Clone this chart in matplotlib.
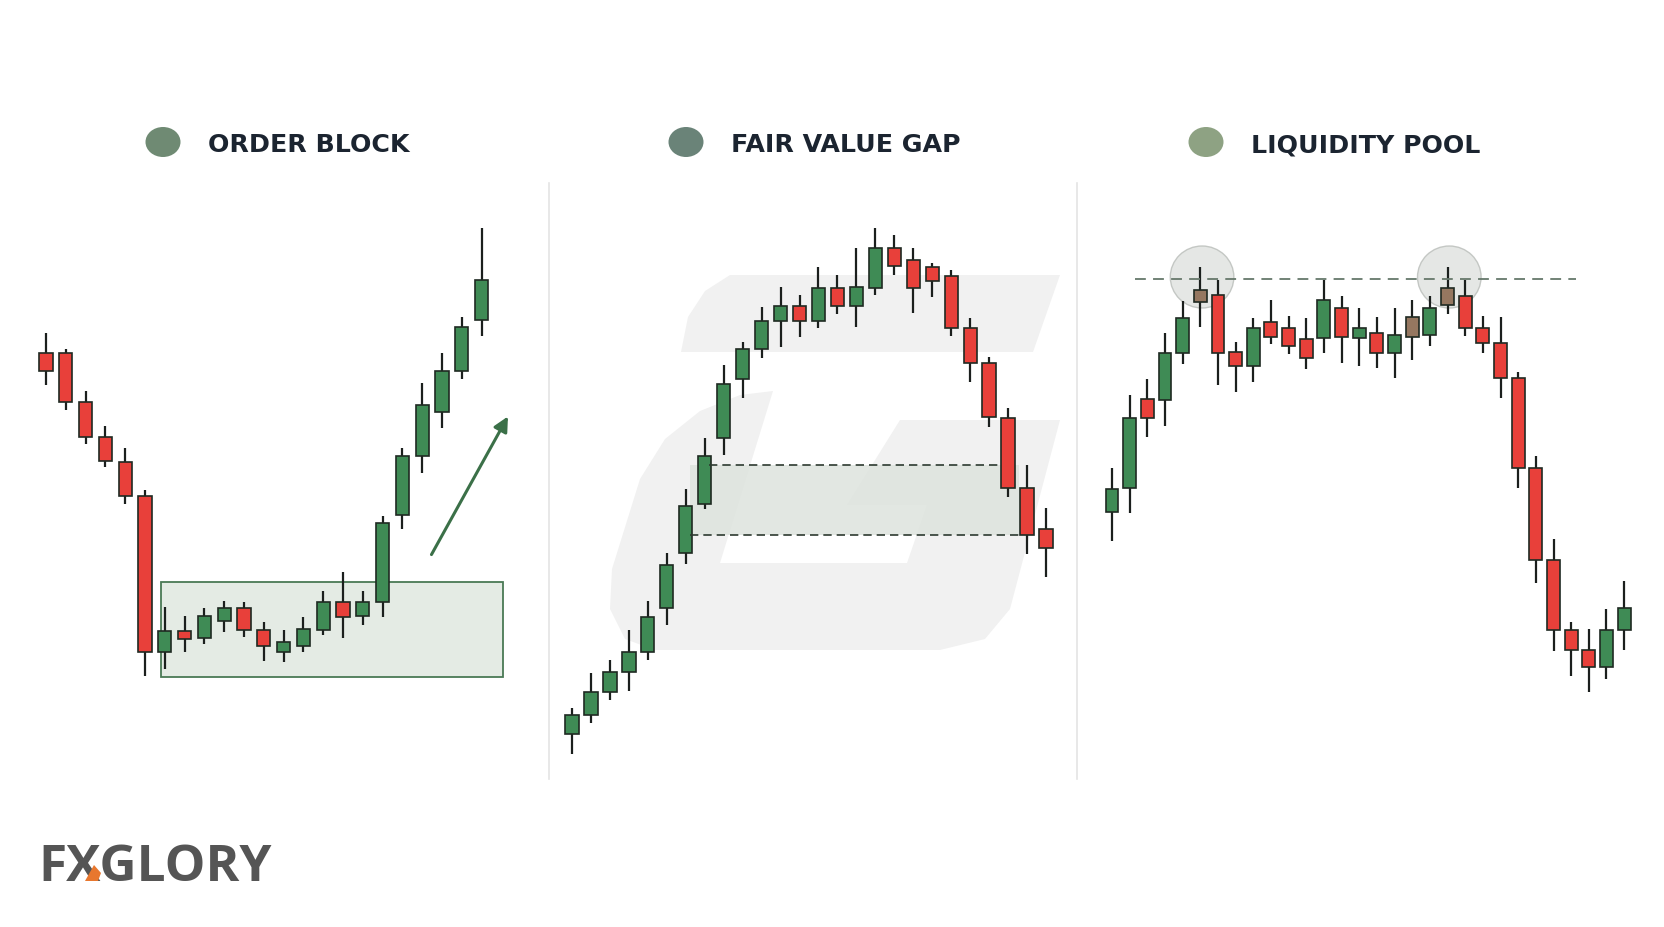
import matplotlib
matplotlib.use("Agg")
import matplotlib.pyplot as plt
from matplotlib.patches import Rectangle, Ellipse, Polygon, FancyArrowPatch

W, H = 1664, 928

# --- data: prices are read off the picture (arbitrary units, higher = up) ---
# panel 1 : order block
ob_open = [574, 574, 525, 490, 465, 431, 275, 296, 289, 306, 319, 297, 275, 281, 297, 325, 311, 325, 412, 471, 515, 556, 607]
ob_close = [556, 525, 490, 466, 431, 275, 296, 288, 311, 319, 297, 281, 285, 298, 325, 310, 325, 404, 471, 522, 556, 600, 647]
ob_high = [594, 578, 536, 501, 479, 437, 320, 311, 319, 326, 325, 305, 297, 310, 336, 355, 336, 411, 479, 544, 574, 610, 699]
ob_low = [542, 517, 483, 460, 423, 251, 258, 275, 283, 295, 290, 266, 265, 275, 292, 289, 302, 310, 398, 454, 499, 548, 591]

# panel 2 : fair value gap
fvg_open = [193, 212, 235, 255, 275, 319, 374, 423, 489, 548, 578, 606, 621, 606, 639, 621, 639, 679, 667, 660, 651, 599, 564, 509, 439, 398]
fvg_close = [212, 235, 255, 275, 310, 362, 421, 471, 543, 578, 606, 621, 606, 639, 621, 640, 679, 661, 639, 646, 599, 564, 510, 439, 392, 379]
fvg_high = [219, 254, 267, 297, 326, 374, 438, 489, 562, 585, 620, 640, 632, 660, 652, 679, 699, 692, 679, 664, 657, 609, 570, 519, 462, 419]
fvg_low = [173, 204, 227, 236, 267, 302, 363, 418, 472, 529, 569, 580, 590, 599, 613, 600, 632, 652, 614, 630, 591, 545, 500, 430, 373, 350]
fvg_top, fvg_bottom = 462, 392

# panel 3 : liquidity pool
lp_open = [415, 439, 528, 527, 574, 625, 632, 575, 561, 605, 599, 588, 589, 619, 589, 594, 574, 590, 592, 622, 631, 599, 584, 549, 459, 367, 297, 277, 260, 297]
lp_close = [438, 509, 509, 574, 609, 637, 574, 561, 599, 590, 581, 569, 627, 590, 599, 574, 592, 610, 619, 639, 599, 584, 549, 459, 367, 297, 277, 260, 297, 319]
lp_high = [459, 532, 548, 594, 626, 660, 647, 585, 609, 627, 611, 609, 647, 631, 619, 610, 619, 627, 631, 660, 647, 611, 610, 555, 471, 388, 305, 298, 318, 346]
lp_low = [386, 414, 490, 501, 563, 600, 542, 535, 545, 583, 573, 558, 574, 564, 561, 559, 549, 567, 581, 613, 591, 574, 529, 439, 344, 276, 251, 235, 248, 277]
lp_special = [5, 17, 19]  # muted brown candles at the sweeps
pool_level = 648

titles = ["ORDER BLOCK", "FAIR VALUE GAP", "LIQUIDITY POOL"]
title_dot_colors = ["#6f8a73", "#6a8378", "#8ea283"]

GREEN = "#3f8b55"
RED = "#e8403a"
WICK = "#1b1f1d"
EDGE = "#1f2a22"
BROWN = "#957760"

fig = plt.figure(figsize=(W / 100, H / 100), dpi=100)
fig.patch.set_facecolor("white")


def make_axes(first_px, step_px, left_px, right_px):
    ax = fig.add_axes([left_px / W, 0, (right_px - left_px) / W, 1])
    ax.set_xlim((left_px - first_px) / step_px, (right_px - first_px) / step_px)
    ax.set_ylim(0, H)
    ax.axis("off")
    return ax


def candles(ax, o, c, hi, lo, width, special=(), z=3):
    for i in range(len(o)):
        col = GREEN if c[i] >= o[i] else RED
        if i in special:
            col = BROWN
        ax.vlines(i, lo[i], hi[i], color=WICK, lw=1.6, zorder=z)
        ax.bar(i, abs(c[i] - o[i]), width, bottom=min(o[i], c[i]), color=col,
               edgecolor=EDGE, lw=1.2, zorder=z + 1)


# background watermark (figure pixel space)
wm = fig.add_axes([0, 0, 1, 1])
wm.set_xlim(0, W)
wm.set_ylim(H, 0)
wm.axis("off")
wm.set_zorder(-1)
wm.add_patch(Polygon([(681, 353), (688, 318), (705, 292), (730, 276), (1060, 276), (1033, 353)],
                     closed=True, color="#f1f1f1", lw=0))
wm.add_patch(Polygon([(773, 392), (740, 396), (700, 412), (665, 440), (640, 480), (612, 570),
                      (610, 610), (625, 640), (655, 651), (940, 651), (985, 640), (1010, 610),
                      (1060, 421), (900, 421), (847, 506), (927, 506), (907, 564), (720, 564)],
                     closed=True, color="#f1f1f1", lw=0))

# dividers and titles
for xp in (549, 1077):
    wm.plot([xp, xp], [184, 780], color="#e4e4e4", lw=1.2)
for xp, t, col in zip((163, 686, 1206), titles, title_dot_colors):
    wm.add_patch(Ellipse((xp, 143), 35, 30, color=col, lw=0))
    wm.text(xp + 45, 145, t, fontsize=18.2, fontweight="bold", color="#1b2430",
            family=["DejaVu Sans"], va="center", ha="left")

# logo
wm.text(38, 868, "FXGLORY", fontsize=37, fontweight="bold", color="#555555",
        family=["Open Sans", "DejaVu Sans"], va="center", ha="left")
wm.add_patch(Polygon([(85, 882), (94, 866), (101, 874), (98, 882)], closed=True,
                     color="#e8772e", lw=0, zorder=5))

# --- panel 1: order block ---
ax1 = make_axes(46, 19.8, 20, 540)
candles(ax1, ob_open, ob_close, ob_high, ob_low, 0.66)
base = range(6, 18)
zone_lo = min(ob_low[i] for i in base) - 8
zone_hi = max(ob_open[i] for i in base) + 20
ax1.add_patch(Rectangle((5.8, zone_lo), 17.3, zone_hi - zone_lo, facecolor="#e4ebe4",
                        edgecolor="#4a7a55", lw=1.3, zorder=1))
ax1.add_patch(FancyArrowPatch((19.4, 370), (23.4, 513), arrowstyle="-|>",
                              mutation_scale=22, color="#3b7048", lw=2.2, zorder=5))

# --- panel 2: fair value gap ---
ax2 = make_axes(572, 18.96, 555, 1070)
candles(ax2, fvg_open, fvg_close, fvg_high, fvg_low, 0.7)
ax2.fill_between([6.2, 23.6], fvg_bottom, fvg_top, color="#dde3dd", alpha=0.85, lw=0, zorder=1)
ax2.hlines(fvg_top, 7.2, 22.7, colors="#2d3a30", linestyles=(0, (5, 3)), lw=1.2, zorder=6)
ax2.hlines(fvg_bottom, 6.2, 23.6, colors="#2d3a30", linestyles=(0, (5, 3)), lw=1.2, zorder=6)

# --- panel 3: liquidity pool ---
ax3 = make_axes(1112, 17.66, 1085, 1660)
candles(ax3, lp_open, lp_close, lp_high, lp_low, 0.73, special=lp_special)
ax3.hlines(pool_level, 1.3, 26.3, colors="#66786b", linestyles=(0, (6, 4)), lw=1.3, zorder=6)
for i in (5, 19):
    ax3.add_patch(Ellipse((i + 0.1, pool_level + 2), 3.6, 62, facecolor="#dfe1df", alpha=0.8,
                          edgecolor="#b9bdb9", lw=1.0, zorder=2))

fig.savefig("out.png", dpi=100, facecolor="white")
